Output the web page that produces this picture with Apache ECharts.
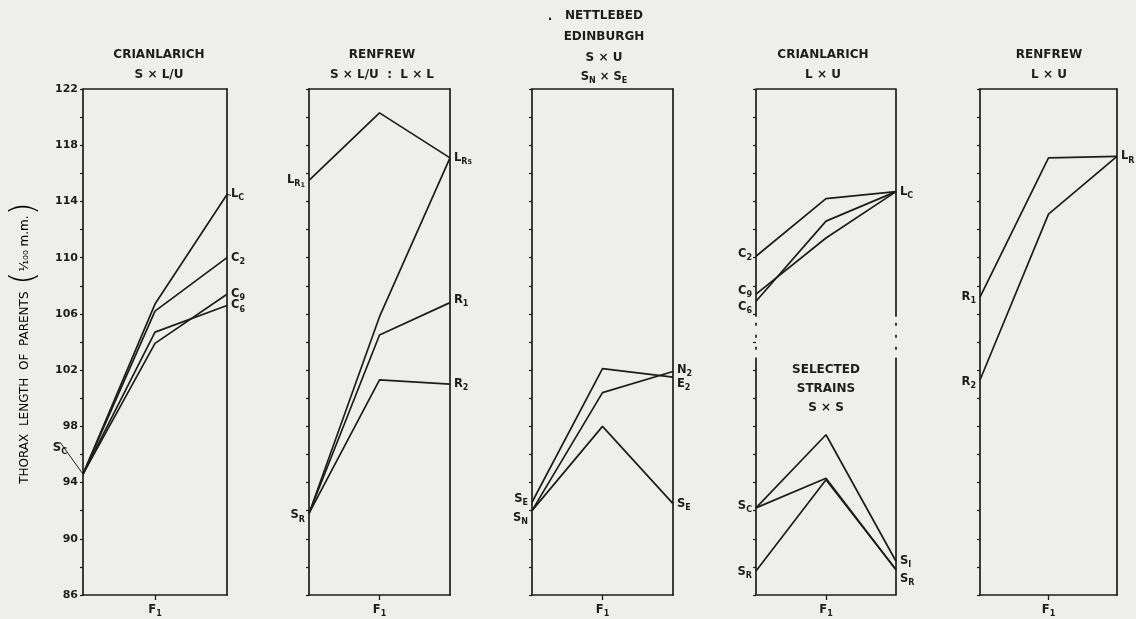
<!DOCTYPE html>
<html><head><meta charset="utf-8">
<script src="https://cdn.jsdelivr.net/npm/echarts@6/dist/echarts.min.js"></script>
<style>html,body{margin:0;padding:0;background:#eeeeec}#c{width:1136px;height:619px}</style>
</head><body><div id="c"></div>
<script>
// ---------- data ----------
const categories = ['P_left', 'F1', 'P_right'];
const yMin = 86, yMax = 122, yStep = 2;

// Panel 1: CRIANLARICH S x L/U
const p1_LC = [94.6, 106.7, 114.5];
const p1_C2 = [94.6, 106.2, 110.0];
const p1_C9 = [94.6, 103.9, 107.4];
const p1_C6 = [94.6, 104.7, 106.6];
// Panel 2: RENFREW S x L/U : L x L
const p2_LR1 = [115.5, 120.3, 117.1];
const p2_LR5 = [91.8, 105.8, 117.1];
const p2_R1 = [91.8, 104.5, 106.8];
const p2_R2 = [91.8, 101.3, 101.0];
// Panel 3: NETTLEBED / EDINBURGH S x U
const p3_E2 = [92.6, 102.1, 101.5];
const p3_N2 = [92.0, 100.4, 101.9];
const p3_SE = [92.0, 98.0, 92.5];
// Panel 4: CRIANLARICH L x U  and  SELECTED STRAINS S x S
const p4_C2 = [110.1, 114.2, 114.7];
const p4_C9 = [107.4, 111.4, 114.7];
const p4_C6 = [106.9, 112.6, 114.7];
const p4_SC1 = [92.2, 97.4, 88.4];
const p4_SCR = [92.2, 94.3, 87.8];
const p4_SRR = [87.7, 94.2, 87.8];
const p4_break = [105.8, 102.9];
// Panel 5: RENFREW L x U
const p5_R1 = [107.2, 117.1, 117.2];
const p5_R2 = [101.3, 113.1, 117.2];

// ---------- style ----------
const INK = '#1d1d1d';
const FONT = '"DejaVu Sans", sans-serif';
const rich = {
  m: {fontFamily: FONT, fontWeight: 'bold', fontSize: 11.5, color: INK, lineHeight: 16},
  s: {fontFamily: FONT, fontWeight: 'bold', fontSize: 8, color: INK, lineHeight: 9, verticalAlign: 'bottom'},
  ss: {fontFamily: FONT, fontWeight: 'bold', fontSize: 6.5, color: INK, lineHeight: 5, verticalAlign: 'bottom'}
};
const GRIDS = [
  {left: 83, width: 144}, {left: 309, width: 141}, {left: 532, width: 141},
  {left: 756, width: 140}, {left: 980, width: 137}
];
const lineStyle = {color: INK, width: 1.7};

function lab(text, dy) { return text ? {text: text, dy: dy || 0} : null; }

function mkLine(g, data, leftLab, rightLab, extra) {
  const items = data.map((v, i) => {
    const L = i === 0 ? leftLab : (i === 2 ? rightLab : null);
    if (!L) return v;
    return {value: v, label: {show: true, position: i === 0 ? 'left' : 'right', distance: 4,
      offset: [0, L.dy], formatter: L.text, rich: rich}};
  });
  return Object.assign({type: 'line', xAxisIndex: g * 2, yAxisIndex: g * 2, data: items,
    symbol: 'circle', symbolSize: 0, showSymbol: true, lineStyle: lineStyle,
    itemStyle: {color: INK}, silent: true, animation: false, z: 3}, extra || {});
}

const series = [
  // panel 1
  mkLine(0, p1_LC, lab('{m|S}{s|C}'), lab('{m|L}{s|C}'), {
    labelLayout: p => p.dataIndex === 0 ? {dx: -12, dy: -26} : {},
    labelLine: {show: true, lineStyle: {color: INK, width: 1}}
  }),
  mkLine(0, p1_C2, null, lab('{m|C}{s|2}')),
  mkLine(0, p1_C9, null, lab('{m|C}{s|9}')),
  mkLine(0, p1_C6, null, lab('{m|C}{s|6}')),
  // panel 2
  mkLine(1, p2_LR1, lab('{m|L}{s|R}{ss|1}'), lab('{m|L}{s|R}{ss|5}')),
  mkLine(1, p2_LR5, lab('{m|S}{s|R}', 2), null),
  mkLine(1, p2_R1, null, lab('{m|R}{s|1}', -3)),
  mkLine(1, p2_R2, null, lab('{m|R}{s|2}')),
  // panel 3
  mkLine(2, p3_E2, lab('{m|S}{s|E}', -3), lab('{m|E}{s|2}', 7)),
  mkLine(2, p3_N2, lab('{m|S}{s|N}', 7), lab('{m|N}{s|2}', -2)),
  mkLine(2, p3_SE, null, lab('{m|S}{s|E}')),
  // panel 4
  mkLine(3, p4_C2, lab('{m|C}{s|2}', -2), lab('{m|L}{s|C}')),
  mkLine(3, p4_C9, lab('{m|C}{s|9}', -3), null),
  mkLine(3, p4_C6, lab('{m|C}{s|6}', 6), null),
  mkLine(3, p4_SC1, lab('{m|S}{s|C}', -2), lab('{m|S}{s|I}')),
  mkLine(3, p4_SCR, null, lab('{m|S}{s|R}', 9)),
  mkLine(3, p4_SRR, lab('{m|S}{s|R}', 1), null),
  // panel 5
  mkLine(4, p5_R1, lab('{m|R}{s|1}'), lab('{m|L}{s|R}')),
  mkLine(4, p5_R2, lab('{m|R}{s|2}', 2), null)
];

// panel 4 broken frame verticals (derived from axis range and break range)
[0, 2].forEach(xi => {
  const base = {type: 'line', xAxisIndex: 6, yAxisIndex: 6, symbol: 'none', silent: true, animation: false, z: 2};
  series.push(Object.assign({}, base, {data: [[xi, yMax], [xi, p4_break[0]]], lineStyle: lineStyle}));
  series.push(Object.assign({}, base, {data: [[xi, p4_break[1]], [xi, yMin]], lineStyle: lineStyle}));
  series.push(Object.assign({}, base, {data: [[xi, p4_break[0]], [xi, p4_break[1]]],
    lineStyle: {color: INK, width: 1.7, type: [3, 9], dashOffset: 6}}));
});

const xAxis = [], yAxis = [];
GRIDS.forEach((g, i) => {
  xAxis.push({type: 'category', gridIndex: i, data: categories, boundaryGap: false,
    axisLine: {show: true, onZero: false, lineStyle: lineStyle},
    axisTick: {show: true, interval: idx => idx === 1, length: 5, lineStyle: {color: INK, width: 1.3}},
    axisLabel: {show: true, interval: idx => idx === 1, margin: 7,
      formatter: v => v === 'F1' ? '{m|F}{s|1}' : '', rich: rich},
    splitLine: {show: false}});
  xAxis.push({type: 'category', gridIndex: i, data: categories, boundaryGap: false, position: 'top',
    axisLine: {show: true, onZero: false, lineStyle: lineStyle},
    axisTick: {show: false}, axisLabel: {show: false}, splitLine: {show: false}});
  yAxis.push({type: 'value', gridIndex: i, min: yMin, max: yMax, interval: yStep,
    axisLine: {show: i !== 3, onZero: false, lineStyle: lineStyle},
    axisTick: {show: true, length: 3, lineStyle: {color: INK, width: 1.2}},
    axisLabel: {show: i === 0, margin: 5, fontFamily: FONT, fontWeight: 'bold', fontSize: 11, color: INK,
      formatter: v => ((v - yMin) % 4 === 0 ? String(v) : '')},
    splitLine: {show: false}});
  yAxis.push({type: 'value', gridIndex: i, min: yMin, max: yMax, position: 'right',
    axisLine: {show: i !== 3, onZero: false, lineStyle: lineStyle},
    axisTick: {show: false}, axisLabel: {show: false}, splitLine: {show: false}});
});

function T(x, y, text) {
  return {type: 'text', x: x, y: y, silent: true, style: {text: text, fill: INK,
    font: 'bold 12px ' + FONT, textAlign: 'center', textVerticalAlign: 'middle', rich: rich}};
}
const graphic = [
  T(159, 55, 'CRIANLARICH'), T(159, 75, 'S × L/U'),
  T(382, 55, 'RENFREW'), T(382, 75, 'S × L/U  :  L × L'),
  T(550, 17, '.'), T(604, 16, 'NETTLEBED'), T(604, 37, 'EDINBURGH'), T(604, 58, 'S × U'),
  T(604, 77, '{m|S}{s|N}{m| × S}{s|E}'),
  T(823, 55, 'CRIANLARICH'), T(823, 75, 'L × U'),
  T(826, 370, 'SELECTED'), T(826, 389, 'STRAINS'), T(826, 408, 'S × S'),
  T(1049, 55, 'RENFREW'), T(1049, 75, 'L × U'),
  {type: 'text', x: 25, y: 343, rotation: Math.PI / 2, silent: true,
    style: {text: '{t|THORAX  LENGTH  OF  PARENTS}  {p|(}{f|¹⁄₁₀₀ m.m.}{p|)}',
      textAlign: 'center', textVerticalAlign: 'middle',
      rich: {t: {fontFamily: FONT, fontSize: 12, color: INK},
        p: {fontFamily: FONT, fontSize: 34, color: INK, fontWeight: 'lighter'},
        f: {fontFamily: FONT, fontSize: 12, color: INK}}}}
];

const chart = echarts.init(document.getElementById('c'), null, {renderer: 'canvas'});
chart.setOption({
  backgroundColor: '#eeeeec',
  animation: false,
  grid: GRIDS.map(g => ({left: g.left, top: 89, width: g.width, height: 506, outerBoundsMode: 'none', containLabel: false})),
  xAxis: xAxis, yAxis: yAxis, series: series, graphic: graphic
});
</script></body></html>
